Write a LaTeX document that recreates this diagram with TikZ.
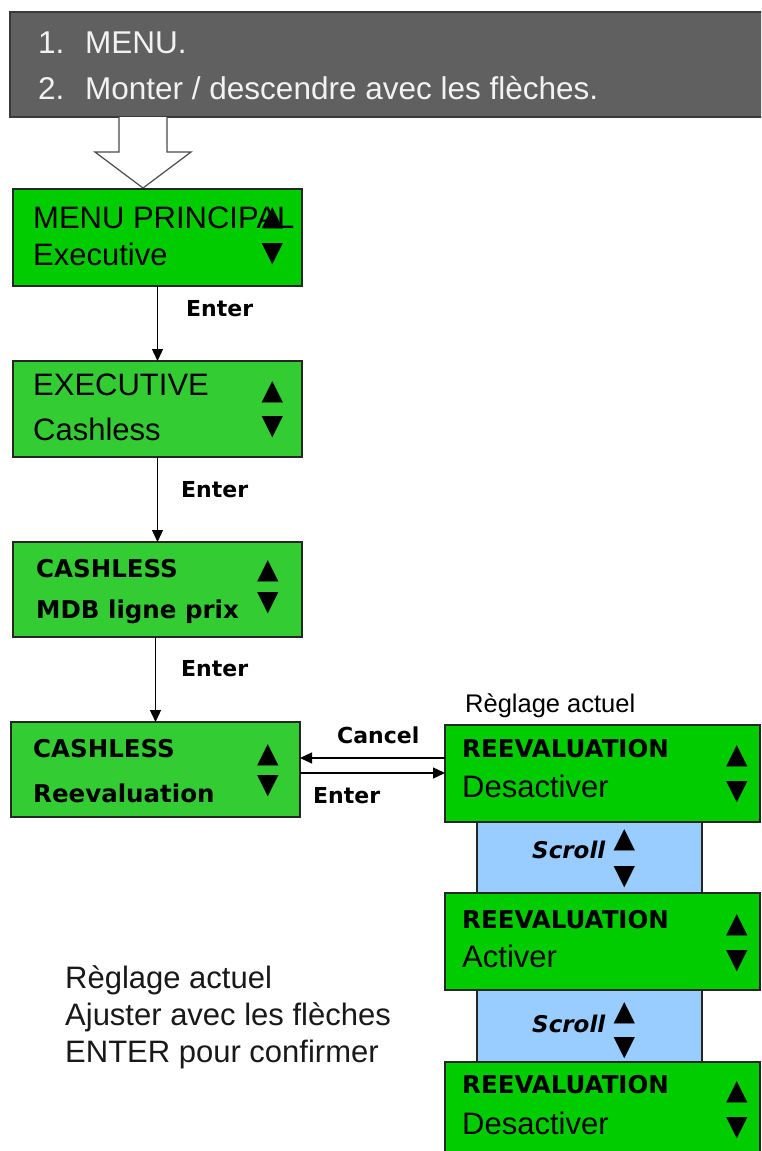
\documentclass[tikz,border=0pt]{standalone}
\usepackage{fontspec}
\setmainfont{Liberation Sans}
\newfontfamily\dejav{DejaVu Sans}
\usetikzlibrary{arrows.meta}
\definecolor{gA}{HTML}{00CC00}
\definecolor{gB}{HTML}{33CC33}
\definecolor{sc}{HTML}{99CCFF}
\definecolor{gr}{HTML}{606060}
\definecolor{grline}{HTML}{3A3A3A}
\definecolor{grtxt}{HTML}{F2F2F2}
\definecolor{hol}{HTML}{4A4A4A}
\tikzset{
  box/.style={draw=black!85, line width=1.3pt, inner sep=0pt, outer sep=0pt},
  lbox/.style={box, minimum width=289, minimum height=96},
  rbox/.style={box, fill=gA, minimum width=315, minimum height=97},
  sbox/.style={box, fill=sc, minimum width=225, minimum height=71},
  rtxt/.style={anchor=base west, inner sep=0pt, font=\fontsize{31}{31}\selectfont},
  btxt/.style={anchor=base west, inner sep=0pt, font=\dejav\bfseries\fontsize{24.5}{25}\selectfont},
  sctxt/.style={anchor=base west, inner sep=0pt, font=\dejav\bfseries\itshape\fontsize{23}{23}\selectfont},
  tri/.style={inner sep=0pt, font=\dejav\fontsize{28}{28}\selectfont},
  lbl/.style={anchor=base west, inner sep=0pt, font=\dejav\bfseries\fontsize{22}{22}\selectfont},
  toptxt/.style={anchor=base west, inner sep=0pt, text=grtxt, font=\fontsize{31.5}{32}\selectfont},
  note/.style={anchor=base west, inner sep=0pt, text=black!90, font=\fontsize{31}{31}\selectfont},
  arr/.style={line width=1.3pt, -{Triangle[length=12pt,width=11pt]}},
}
\begin{document}
\begin{tikzpicture}[x=1pt,y=-1pt]
\clip (0,0) rectangle (761,1151);
\fill[white] (0,0) rectangle (761,1151);

% top gray box
\node[draw=grline, line width=1.3pt, fill=gr, minimum width=760, minimum height=105, inner sep=0pt, outer sep=0pt] (top) at (390,64.5) {};
\node[toptxt] (t1n) at (38,53) {1.};
\node[toptxt] (t1) at (85,53) {MENU.};
\node[toptxt] (t2n) at (38,99) {2.};
\node[toptxt] (t2) at (85,99) {Monter / descendre avec les flèches.};

% hollow arrow
\draw[draw=hol, fill=white, line width=1.2pt, line join=miter]
  (119,117) -- (119,152) -- (95,152) -- (143,188) -- (191,152) -- (167,152) -- (167,117);

% left boxes
\node[lbox, fill=gA, minimum height=97] (b1) at (157.5,237.5) {};
\node[rtxt] (b1a) at (33,228) {MENU PRINCIPAL};
\node[tri] (b1u) at (272.5,218) {▲};
\node[rtxt] (b1b) at (33,265) {Executive};
\node[tri] (b1d) at (272.5,254) {▼};

\node[lbox, fill=gB] (b2) at (157.5,409) {};
\node[rtxt] (b2a) at (33,395) {EXECUTIVE};
\node[rtxt] (b2b) at (33,440) {Cashless};
\node[tri] (b2u) at (272.5,392) {▲};
\node[tri] (b2d) at (272.5,427.5) {▼};

\node[lbox, fill=gB, minimum height=95] (b3) at (157.5,589.5) {};
\node[btxt] (b3a) at (36,577) {CASHLESS};
\node[btxt] (b3b) at (36,618) {MDB ligne prix};
\node[tri] (b3u) at (268,571.5) {▲};
\node[tri] (b3d) at (268,603.5) {▼};

\node[lbox, fill=gB, minimum height=95] (b4) at (155.5,769.5) {};
\node[btxt] (b4a) at (33,757) {CASHLESS};
\node[btxt] (b4b) at (33,802) {Reevaluation};
\node[tri] (b4u) at (268,755) {▲};
\node[tri] (b4d) at (268,786.5) {▼};

% vertical connectors
\draw[arr] (b1.south) -- (b1.south |- b2.north);
\draw[arr] (b2.south) -- (b2.south |- b3.north);
\draw[arr] (b4.north |- b3.south) -- (b4.north);
\node[lbl] (e1) at (186,316) {Enter};
\node[lbl] (e2) at (181,497) {Enter};
\node[lbl] (e3) at (181,676) {Enter};

% right column
\node[anchor=base west, inner sep=0pt, font=\fontsize{25.5}{26}\selectfont] (ra) at (465,712) {Règlage actuel};

\node[rbox] (r1) at (602.5,773.5) {};
\node[btxt] (r1a) at (462,757) {REEVALUATION};
\node[rtxt] (r1b) at (462,797) {Desactiver};
\node[tri] (r1u) at (737,756.5) {▲};
\node[tri] (r1d) at (737,792) {▼};

\node[sbox] (s1) at (589.5,857.5) {};
\node[sctxt] (s1a) at (532,858) {Scroll};
\node[tri] (s1u) at (624.5,840) {▲};
\node[tri] (s1d) at (624.5,877) {▼};

\node[rbox] (r2) at (602.5,941.5) {};
\node[btxt] (r2a) at (462,928) {REEVALUATION};
\node[rtxt] (r2b) at (462,967) {Activer};
\node[tri] (r2u) at (737,925) {▲};
\node[tri] (r2d) at (737,961) {▼};

\node[sbox, minimum height=72] (s2) at (589.5,1026) {};
\node[sctxt] (s2a) at (532,1032) {Scroll};
\node[tri] (s2u) at (624.5,1013) {▲};
\node[tri] (s2d) at (624.5,1048) {▼};

\node[rbox] (r3) at (602.5,1110.5) {};
\node[btxt] (r3a) at (462,1093) {REEVALUATION};
\node[rtxt] (r3b) at (462,1134) {Desactiver};
\node[tri] (r3u) at (737,1092.5) {▲};
\node[tri] (r3d) at (737,1128) {▼};

% horizontal connectors
\coordinate (cyc) at (0,758);
\coordinate (cye) at (0,773);
\draw[arr] (r1.west |- cyc) -- (b4.east |- cyc);
\draw[arr] (b4.east |- cye) -- (r1.west |- cye);
\node[lbl] (lc) at (337,743) {Cancel};
\node[lbl] (le) at (313,803) {Enter};

% note
\node[note] (n1) at (65,988) {Règlage actuel};
\node[note] (n2) at (65,1025) {Ajuster avec les flèches};
\node[note] (n3) at (65,1062) {ENTER pour confirmer};
\end{tikzpicture}
\end{document}
